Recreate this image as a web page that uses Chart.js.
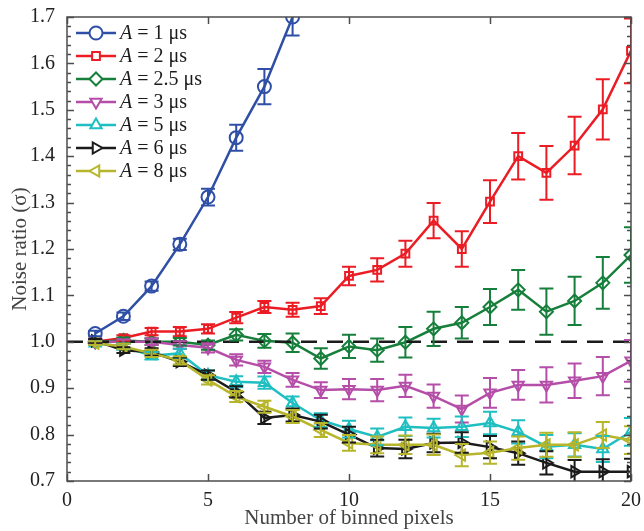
<!DOCTYPE html>
<html>
<head>
<meta charset="utf-8">
<script src="https://cdn.jsdelivr.net/npm/chart.js@4/dist/chart.umd.min.js"></script>
<style>
  html, body { margin: 0; padding: 0; background: #fff; }
  #wrap { width: 644px; height: 531px; }
</style>
</head>
<body>
<div id="wrap"><canvas id="chart" width="644" height="531"></canvas></div>
<script>
// binned pixels
const binned = [1, 2, 3, 4, 5, 6, 7, 8, 9, 10, 11, 12, 13, 14, 15, 16, 17, 18, 19, 20];

// noise ratio values per pulse width A
const a1 = [1.018, 1.055, 1.12, 1.21, 1.312, 1.44, 1.55, 1.70];
const a2 = [1.0, 1.008, 1.022, 1.022, 1.028, 1.052, 1.075, 1.069, 1.077, 1.142, 1.155, 1.19, 1.261, 1.2, 1.302, 1.40, 1.364, 1.423, 1.501, 1.627];
const a25 = [1.0, 1.003, 1.0, 1.0, 0.993, 1.015, 1.002, 0.998, 0.964, 0.99, 0.982, 0.999, 1.028, 1.041, 1.075, 1.112, 1.065, 1.088, 1.127, 1.187];
const a3 = [1.0, 1.0, 1.0, 0.993, 0.987, 0.961, 0.946, 0.918, 0.896, 0.898, 0.896, 0.905, 0.883, 0.855, 0.89, 0.907, 0.907, 0.916, 0.926, 0.959];
const a5 = [0.997, 0.99, 0.97, 0.975, 0.928, 0.914, 0.912, 0.868, 0.831, 0.812, 0.795, 0.817, 0.814, 0.817, 0.825, 0.806, 0.774, 0.778, 0.769, 0.806];
const a6 = [1.002, 0.982, 0.978, 0.957, 0.928, 0.892, 0.836, 0.842, 0.828, 0.8, 0.771, 0.769, 0.782, 0.783, 0.773, 0.76, 0.739, 0.72, 0.72, 0.72];
const a8 = [0.997, 0.99, 0.975, 0.96, 0.918, 0.882, 0.86, 0.839, 0.81, 0.782, 0.778, 0.778, 0.778, 0.756, 0.761, 0.771, 0.778, 0.778, 0.799, 0.788];

// error bar half-heights
const e1 = [0.006, 0.008, 0.01, 0.012, 0.018, 0.028, 0.038, 0.04];
const e2 = [0.005, 0.006, 0.008, 0.01, 0.01, 0.012, 0.013, 0.015, 0.017, 0.02, 0.025, 0.028, 0.038, 0.038, 0.046, 0.05, 0.058, 0.062, 0.065, 0.07];
const e25 = [0.004, 0.006, 0.007, 0.008, 0.01, 0.012, 0.015, 0.02, 0.022, 0.025, 0.025, 0.033, 0.037, 0.034, 0.039, 0.043, 0.05, 0.052, 0.056, 0.06];
const e3 = [0.004, 0.005, 0.007, 0.008, 0.01, 0.012, 0.013, 0.015, 0.017, 0.022, 0.024, 0.024, 0.025, 0.029, 0.032, 0.032, 0.038, 0.037, 0.041, 0.045];
const e5 = [0.004, 0.006, 0.008, 0.01, 0.01, 0.012, 0.013, 0.014, 0.015, 0.018, 0.018, 0.02, 0.02, 0.022, 0.024, 0.025, 0.025, 0.025, 0.028, 0.03];
const e6 = [0.004, 0.006, 0.008, 0.009, 0.01, 0.012, 0.013, 0.014, 0.015, 0.017, 0.018, 0.02, 0.02, 0.022, 0.024, 0.025, 0.025, 0.025, 0.027, 0.028];
const e8 = [0.004, 0.006, 0.008, 0.009, 0.01, 0.012, 0.013, 0.014, 0.015, 0.017, 0.018, 0.02, 0.022, 0.024, 0.024, 0.025, 0.026, 0.027, 0.028, 0.03];

const legendLabels = ['1 μs', '2 μs', '2.5 μs', '3 μs', '5 μs', '6 μs', '8 μs'];
const yTicks = [0.7, 0.8, 0.9, 1.0, 1.1, 1.2, 1.3, 1.4, 1.5, 1.6, 1.7];
const xTicks = [0, 5, 10, 15, 20];

const FONT = '"Liberation Serif", "Times New Roman", serif';

const series = [
  { vals: a1, errs: e1, color: '#2f4fa6', style: 'circle', rot: 0 },
  { vals: a2, errs: e2, color: '#ec1c24', style: 'rect', rot: 0 },
  { vals: a25, errs: e25, color: '#167f3b', style: 'rectRot', rot: 0 },
  { vals: a3, errs: e3, color: '#b54ea8', style: 'triangle', rot: 180 },
  { vals: a5, errs: e5, color: '#1fbfc1', style: 'triangle', rot: 0 },
  { vals: a6, errs: e6, color: '#1b1b1b', style: 'triangle', rot: 90 },
  { vals: a8, errs: e8, color: '#b7b52a', style: 'triangle', rot: 270 }
];

const datasets = series.map((s, i) => ({
  label: 'A = ' + legendLabels[i],
  data: s.vals.map((v, j) => ({ x: binned[j], y: v })),
  borderColor: s.color,
  backgroundColor: 'rgba(0,0,0,0)',
  borderWidth: 2.5,
  pointStyle: s.style,
  pointRotation: s.rot,
  pointRadius: s.style === 'rect' ? 5.5 : 6.5,
  pointBorderWidth: 2,
  pointBackgroundColor: 'rgba(0,0,0,0)',
  pointBorderColor: s.color,
  tension: 0,
  order: series.length - i,
  errs: s.errs
}));

// error bars, dashed reference line, frame with inward ticks, legend
const decorations = {
  id: 'decorations',
  afterDatasetsDraw(chart) {
    const ctx = chart.ctx;
    const { left, right, top, bottom } = chart.chartArea;
    const xs = chart.scales.x, ys = chart.scales.y;

    ctx.save();
    ctx.beginPath();
    ctx.rect(left, top, right - left, bottom - top);
    ctx.clip();

    // dashed line at 1.0
    ctx.setLineDash([16, 10]);
    ctx.strokeStyle = '#1b1b1b';
    ctx.lineWidth = 2.5;
    ctx.beginPath();
    ctx.moveTo(xs.getPixelForValue(0), ys.getPixelForValue(1.0));
    ctx.lineTo(xs.getPixelForValue(20), ys.getPixelForValue(1.0));
    ctx.stroke();
    ctx.setLineDash([]);

    // error bars
    chart.data.datasets.forEach(ds => {
      ctx.strokeStyle = ds.borderColor;
      ctx.lineWidth = 2;
      ds.data.forEach((p, j) => {
        const px = xs.getPixelForValue(p.x);
        const y1 = ys.getPixelForValue(p.y + ds.errs[j]);
        const y2 = ys.getPixelForValue(p.y - ds.errs[j]);
        ctx.beginPath();
        ctx.moveTo(px, y1); ctx.lineTo(px, y2);
        ctx.moveTo(px - 7, y1); ctx.lineTo(px + 7, y1);
        ctx.moveTo(px - 7, y2); ctx.lineTo(px + 7, y2);
        ctx.stroke();
      });
    });
    ctx.restore();

    // frame
    ctx.save();
    ctx.strokeStyle = '#4d4d4d';
    ctx.lineWidth = 1.5;
    ctx.strokeRect(left, top, right - left, bottom - top);
    ctx.beginPath();
    for (let v = 0.7; v <= 1.7001; v += 0.02) {
      const py = Math.round(ys.getPixelForValue(v)) + 0.5;
      const major = Math.abs(Math.round(v * 10) - v * 10) < 0.001;
      const len = major ? 7 : 4;
      ctx.moveTo(left, py); ctx.lineTo(left + len, py);
      ctx.moveTo(right, py); ctx.lineTo(right - len, py);
    }
    xTicks.forEach(v => {
      const px = Math.round(xs.getPixelForValue(v)) + 0.5;
      ctx.moveTo(px, bottom); ctx.lineTo(px, bottom - 7);
      ctx.moveTo(px, top); ctx.lineTo(px, top + 7);
    });
    ctx.stroke();
    ctx.restore();

    // legend
    ctx.save();
    series.forEach((s, i) => {
      const ly = 33 + i * 23;
      ctx.strokeStyle = s.color;
      ctx.lineWidth = 2.5;
      ctx.beginPath();
      ctx.moveTo(76, ly); ctx.lineTo(116, ly);
      ctx.stroke();
      ctx.fillStyle = '#fff';
      ctx.lineWidth = 2;
      Chart.helpers.drawPoint(ctx, {
        pointStyle: s.style,
        rotation: s.rot,
        radius: s.style === 'rect' ? 5.5 : 6.5,
        borderWidth: 2
      }, 96, ly);
      ctx.fillStyle = '#1b1b1b';
      ctx.textBaseline = 'middle';
      ctx.font = 'italic 20px ' + FONT;
      ctx.fillText('A', 120, ly + 1);
      const w = ctx.measureText('A').width;
      ctx.font = '20px ' + FONT;
      ctx.fillText(' = ' + legendLabels[i], 120 + w, ly + 1);
    });
    ctx.restore();
  }
};

new Chart(document.getElementById('chart'), {
  type: 'line',
  data: { datasets },
  options: {
    responsive: false,
    animation: false,
    layout: { padding: { top: 17, right: 13, left: 0, bottom: 0 } },
    plugins: { legend: { display: false }, tooltip: { enabled: false } },
    scales: {
      x: {
        type: 'linear',
        min: 0,
        max: 20,
        afterBuildTicks: axis => { axis.ticks = xTicks.map(v => ({ value: v })); },
        ticks: { font: { family: FONT, size: 20 }, color: '#222', padding: 0, maxRotation: 0 },
        grid: { display: false },
        border: { display: false },
        title: { display: true, text: 'Number of binned pixels', font: { family: FONT, size: 21 }, color: '#444', padding: { top: 0, bottom: 0 } },
        afterFit: axis => { axis.height = 50; }
      },
      y: {
        min: 0.7,
        max: 1.7,
        afterBuildTicks: axis => { axis.ticks = yTicks.map(v => ({ value: v })); },
        ticks: { font: { family: FONT, size: 20 }, color: '#222', padding: 4, callback: v => v.toFixed(1) },
        grid: { display: false },
        border: { display: false },
        title: { display: true, text: 'Noise ratio (σ)', font: { family: FONT, size: 21 }, color: '#444', padding: { top: 8, bottom: 0 } },
        afterFit: axis => { axis.width = 67; }
      }
    }
  },
  plugins: [decorations]
});
</script>
</body>
</html>
